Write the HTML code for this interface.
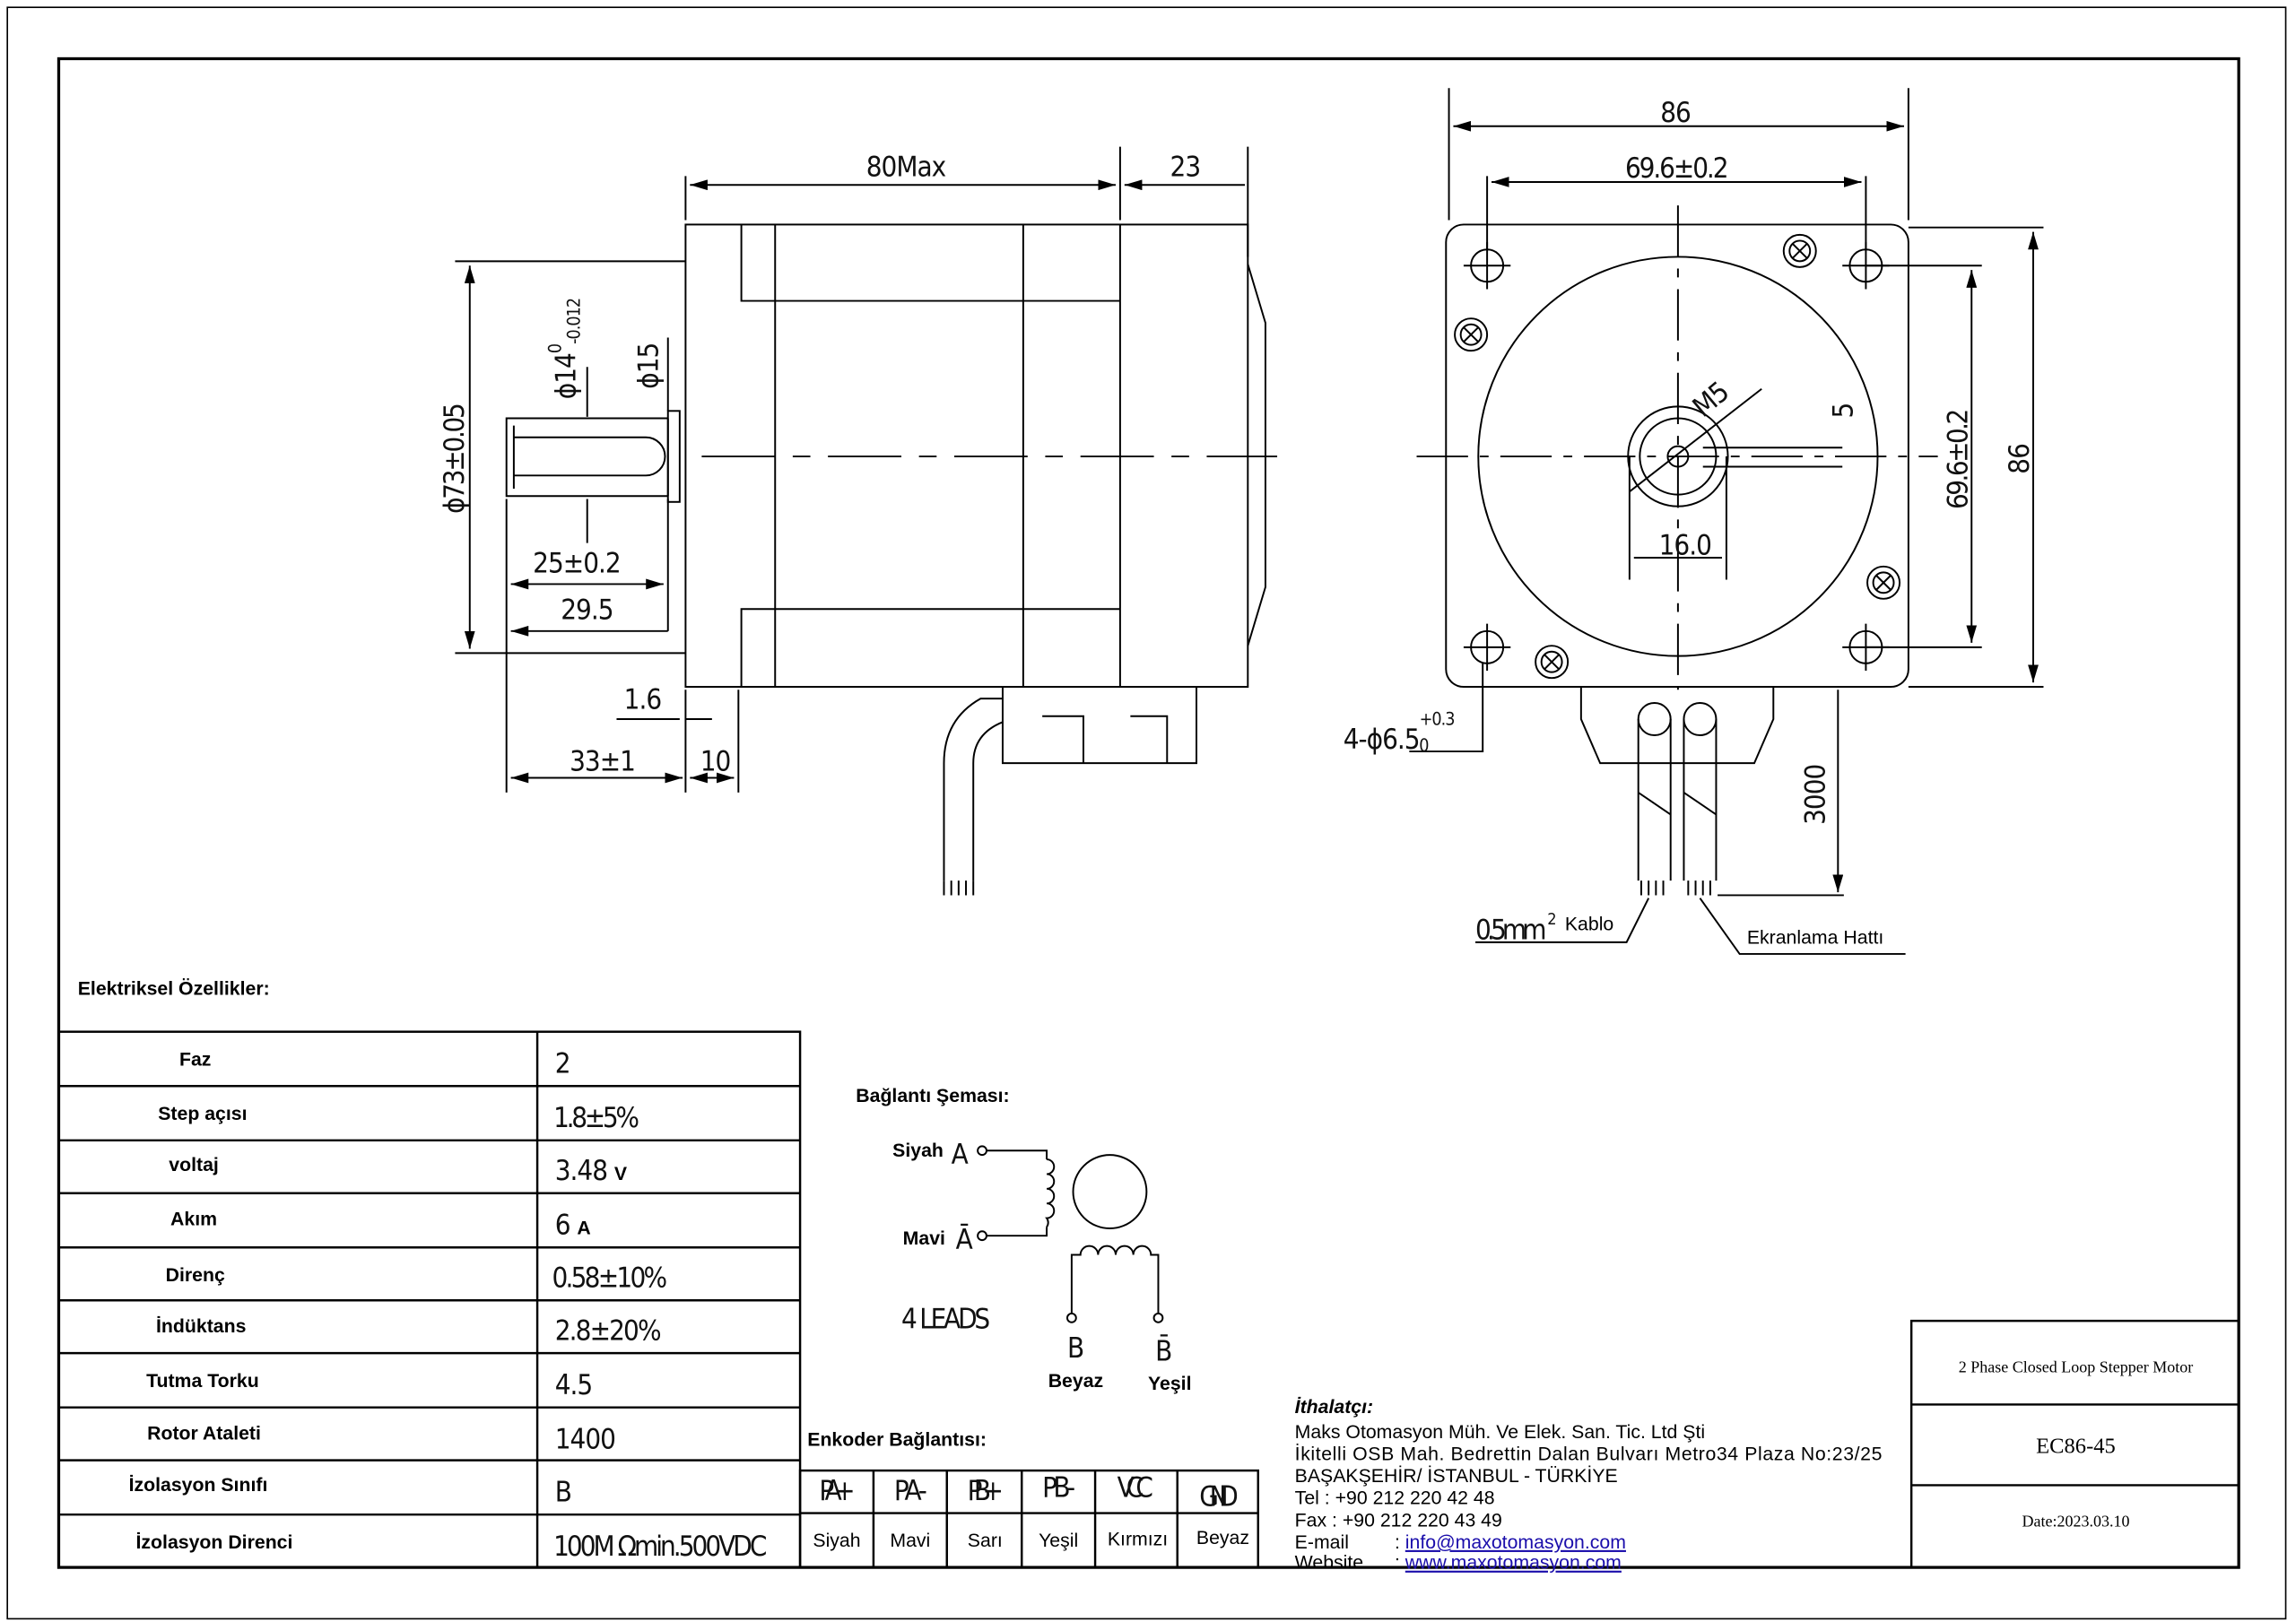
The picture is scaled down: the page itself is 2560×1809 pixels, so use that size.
<!DOCTYPE html>
<html><head><meta charset="utf-8"><style>
html,body{margin:0;padding:0;background:#fff;}
svg{display:block;}
.d{font-family:"Liberation Sans Narrow","DejaVu Sans Condensed","Liberation Sans",sans-serif;font-size:19px;letter-spacing:-0.6px;fill:#111;}
.b{font-family:"Liberation Sans",sans-serif;font-size:13px;font-weight:bold;fill:#000;}
.n{font-family:"Liberation Sans",sans-serif;font-size:13px;fill:#000;}
.s{font-family:"Liberation Serif",serif;font-size:12px;fill:#000;}
</style></head><body>
<svg width="2560" height="1809" viewBox="0 0 1564 1105.2" preserveAspectRatio="none" xmlns="http://www.w3.org/2000/svg">
<defs><marker id="a" markerWidth="10" markerHeight="6" refX="10" refY="3" orient="auto-start-reverse"><path d="M0,0 L10,3 L0,6z" fill="#000"/></marker></defs>
<rect width="1564" height="1106" fill="#fff"/>
<rect x="5" y="5" width="1552" height="1098" fill="none" stroke="#000" stroke-width="1"/>
<rect x="40" y="40" width="1485" height="1028" fill="none" stroke="#000" stroke-width="2"/>
<g stroke="#000" stroke-width="1.2" fill="none">
<rect x="467" y="153" width="383" height="315"/>
<path d="M505 153V205H763M505 468V415H763M528 153V468M697 153V468M763 153V468"/>
<path d="M850 180L862 220V400L850 440"/>
<path d="M455 285V338M455 285H345V338H455M350 290V333M350 298H440A13 13 0 0 1 440 324H350"/>
<rect x="455" y="280" width="8" height="62"/>
<path d="M478 311H870" stroke-dasharray="50,12,12,12"/>
<path d="M683 468V520H815V468M710 488H738V520M770 488H795V520"/>
<path d="M643 520V600M663 520V600M643 520Q643 490 668 476H683M663 520Q663 500 683 492"/>
<path d="M643 600V610M648 600V610M653 600V610M658 600V610M663 600V610"/>
<path d="M467 120V150M850 100V175M763 100V150"/>
<path d="M470 126H760" marker-start="url(#a)" marker-end="url(#a)"/>
<path d="M766 126H848" marker-start="url(#a)"/>
<path d="M310 178H467M310 445H467"/>
<path d="M320 181V442" marker-start="url(#a)" marker-end="url(#a)"/>
<path d="M345 340V540M455 340V430M467 470V540M503 470V540"/>
<path d="M348 398H452" marker-start="url(#a)" marker-end="url(#a)"/>
<path d="M348 430H455" marker-start="url(#a)"/>
<path d="M348 530H465" marker-start="url(#a)" marker-end="url(#a)"/>
<path d="M470 530H500" marker-start="url(#a)" marker-end="url(#a)"/>
<path d="M420 490H463M467 490H485"/>
<path d="M400 250V284M400 340V370M455 230V280"/>
</g>
<g class="d">
<text x="590" y="120">80Max</text><text x="797" y="120">23</text>
<text x="316" y="350" transform="rotate(-90 316 350)" textLength="75">ϕ73±0.05</text>
<text x="392" y="272" transform="rotate(-90 392 272)">ϕ14<tspan font-size="12" dy="-10">0</tspan><tspan font-size="12" dy="13">-0.012</tspan></text>
<text x="448" y="265" transform="rotate(-90 448 265)">ϕ15</text>
<text x="363" y="390">25±0.2</text><text x="382" y="422">29.5</text>
<text x="425" y="483">1.6</text><text x="388" y="525">33±1</text><text x="477" y="525">10</text>
</g>
<g stroke="#000" stroke-width="1.2" fill="none">
<rect x="985" y="153" width="315" height="315" rx="12"/>
<circle cx="1143" cy="311" r="136"/>
<circle cx="1143" cy="311" r="34"/><circle cx="1143" cy="311" r="26"/><circle cx="1143" cy="311" r="7"/>
<path d="M1143 140V470M965 311H1320" stroke-dasharray="35,8,6,8"/>
<circle cx="1013" cy="181" r="11"/><circle cx="1271" cy="181" r="11"/><circle cx="1013" cy="441" r="11"/><circle cx="1271" cy="441" r="11"/>
<path d="M997 181H1029M1013 165V197M1255 181H1287M1271 165V197M997 441H1029M1013 425V457M1255 441H1287M1271 425V457"/>
<g><circle cx="1226" cy="171" r="11"/><circle cx="1226" cy="171" r="7"/><path d="M1221 166L1231 176M1231 166L1221 176"/></g>
<g><circle cx="1002" cy="228" r="11"/><circle cx="1002" cy="228" r="7"/><path d="M997 223L1007 233M1007 223L997 233"/></g>
<g><circle cx="1283" cy="397" r="11"/><circle cx="1283" cy="397" r="7"/><path d="M1278 392L1288 402M1288 392L1278 402"/></g>
<g><circle cx="1057" cy="451" r="11"/><circle cx="1057" cy="451" r="7"/><path d="M1052 446L1062 456M1062 446L1052 456"/></g>
<path d="M1110 335L1200 265"/>
<path d="M1110 311V395M1176 311V395M1113 380H1173"/>
<path d="M1160 305H1255M1160 318H1255"/>
<path d="M987 60V150M1300 60V150M1013 120V170M1271 120V170"/>
<path d="M990 86H1297" marker-start="url(#a)" marker-end="url(#a)"/>
<path d="M1016 124H1268" marker-start="url(#a)" marker-end="url(#a)"/>
<path d="M1300 155H1392M1300 468H1392M1271 181H1350M1271 441H1350"/>
<path d="M1385 158V465" marker-start="url(#a)" marker-end="url(#a)"/>
<path d="M1343 184V438" marker-start="url(#a)" marker-end="url(#a)"/>
<path d="M1010 452V512H960"/>
<path d="M1077 468V490L1090 520H1195L1208 490V468"/>
<circle cx="1127" cy="490" r="11"/><circle cx="1158" cy="490" r="11"/>
<path d="M1116 490V600M1138 490V600M1147 490V600M1169 490V600"/>
<path d="M1116 540L1138 555M1147 540L1169 555"/>
<path d="M1118 600V610M1123 600V610M1128 600V610M1133 600V610M1150 600V610M1155 600V610M1160 600V610M1165 600V610"/>
<path d="M1170 610H1256M1252 470V608" marker-end="url(#a)"/>
<path d="M1123 612L1108 642H1005M1158 612L1185 650H1298"/>
</g>
<g class="d">
<text x="1131" y="83">86</text><text x="1107" y="121" textLength="70">69.6±0.2</text>
<text x="1340" y="347" transform="rotate(-90 1340 347)" textLength="68">69.6±0.2</text>
<text x="1382" y="323" transform="rotate(-90 1382 323)">86</text>
<text x="1243" y="562" transform="rotate(-90 1243 562)">3000</text>
<text x="1130" y="378">16.0</text>
<text x="1262" y="285" transform="rotate(-90 1262 285)">5</text>
<text x="1160" y="285" transform="rotate(-40 1160 285)">M5</text>
<text x="915" y="510">4-ϕ6.5<tspan font-size="12" dy="-16">+0.3</tspan><tspan font-size="12" dx="-24" dy="18">0</tspan></text>
<text x="1005" y="640" textLength="48">0.5mm</text><text x="1054" y="630" font-size="11">2</text>
</g>
<text class="n" x="1066" y="634" font-size="11">Kablo</text>
<text class="n" x="1190" y="643" font-size="12">Ekranlama Hattı</text>
<text class="b" x="53" y="678">Elektriksel Özellikler:</text>
<g stroke="#000" stroke-width="1.5" fill="none">
<rect x="40" y="703" width="505" height="365"/>
<path d="M366 703V1068M40 740H545M40 777H545M40 813H545M40 850H545M40 886H545M40 922H545M40 959H545M40 995H545M40 1032H545"/>
<rect x="545" y="1002" width="312" height="66"/>
<path d="M545 1031H857M595 1002V1068M645 1002V1068M696 1002V1068M746 1002V1068M802 1002V1068"/>
<rect x="1302" y="900" width="223" height="168"/>
<path d="M1302 957H1525M1302 1012H1525"/>
</g>
<g class="b" text-anchor="middle">
<text x="133" y="726">Faz</text><text x="138" y="763">Step açısı</text><text x="132" y="798">voltaj</text>
<text x="132" y="835">Akım</text><text x="133" y="873">Direnç</text><text x="137" y="908">İndüktans</text>
<text x="138" y="945">Tutma Torku</text><text x="139" y="981">Rotor Ataleti</text><text x="135" y="1016">İzolasyon Sınıfı</text>
<text x="146" y="1055">İzolasyon Direnci</text>
</g>
<g class="d" font-size="21">
<text x="378" y="731">2</text><text x="377" y="768" textLength="58">1.8±5%</text><text x="378" y="804">3.48 <tspan class="b" font-size="13">V</tspan></text>
<text x="378" y="841">6 <tspan class="b" font-size="13">A</tspan></text><text x="376" y="877" textLength="78">0.58±10%</text><text x="378" y="913" textLength="72">2.8±20%</text>
<text x="378" y="950">4.5</text><text x="378" y="987">1400</text><text x="378" y="1023">B</text><text x="377" y="1060" textLength="145">100M Ωmin.500VDC</text>
</g>
<text class="b" x="550" y="985">Enkoder Bağlantısı:</text>
<g class="d" font-size="15" text-anchor="middle">
<text x="570" y="1022" textLength="24">PA+</text><text x="620" y="1022" textLength="22">PA-</text><text x="671" y="1022" textLength="24">PB+</text><text x="721" y="1020" textLength="22">PB-</text><text x="773" y="1020" textLength="24">VCC</text><text x="830" y="1026" textLength="26">GND</text>
</g>
<g class="n" text-anchor="middle">
<text x="570" y="1054">Siyah</text><text x="620" y="1054">Mavi</text><text x="671" y="1054">Sarı</text><text x="721" y="1054">Yeşil</text><text x="775" y="1053">Kırmızı</text><text x="833" y="1052">Beyaz</text>
</g>
<text class="b" x="583" y="751">Bağlantı Şeması:</text>
<text class="b" x="608" y="788">Siyah</text><text class="b" x="615" y="848">Mavi</text>
<text class="b" x="714" y="945">Beyaz</text><text class="b" x="782" y="947">Yeşil</text>
<g class="d" font-size="20"><text x="648" y="793">A</text><text x="651" y="851">Ā</text><text x="614" y="905" textLength="60">4 LEADS</text><text x="727" y="925">B</text><text x="787" y="927">B̄</text></g>
<g stroke="#000" stroke-width="1.2" fill="none">
<circle cx="669" cy="784" r="3"/><circle cx="669" cy="842" r="3"/>
<path d="M672 784H713V790M672 842H713V836"/>
<path d="M713 790a5 5 0 0 1 0 10a5 5 0 0 1 0 10a5 5 0 0 1 0 10a5 5 0 0 1 0 10a5 5 0 0 1 0 6"/>
<circle cx="756" cy="812" r="25"/>
<path d="M730 895V855H736a6 6 0 0 1 12 0a6 6 0 0 1 12 0a6 6 0 0 1 12 0a6 6 0 0 1 12 0H789V895"/>
<circle cx="730" cy="898" r="3"/><circle cx="789" cy="898" r="3"/>
</g>
<g class="n">
<text x="882" y="963" font-style="italic" font-weight="bold">İthalatçı:</text>
<text x="882" y="980">Maks Otomasyon Müh. Ve Elek. San. Tic. Ltd Şti</text>
<text x="882" y="995" textLength="400">İkitelli OSB Mah. Bedrettin Dalan Bulvarı Metro34 Plaza No:23/25</text>
<text x="882" y="1010">BAŞAKŞEHİR/ İSTANBUL - TÜRKİYE</text>
<text x="882" y="1025">Tel : +90 212 220 42 48</text>
<text x="882" y="1040">Fax : +90 212 220 43 49</text>
<text x="882" y="1055">E-mail</text><text x="950" y="1055">: <tspan fill="#1a0dab" text-decoration="underline">info@maxotomasyon.com</tspan></text>
<text x="882" y="1069">Website</text><text x="950" y="1069">: <tspan fill="#1a0dab" text-decoration="underline">www.maxotomasyon.com</tspan></text>
</g>
<g class="s" text-anchor="middle">
<text x="1414" y="935" font-size="11">2 Phase Closed Loop Stepper Motor</text>
<text x="1414" y="990" font-size="15">EC86-45</text>
<text x="1414" y="1040" font-size="11">Date:2023.03.10</text>
</g>
</svg>
</body></html>
